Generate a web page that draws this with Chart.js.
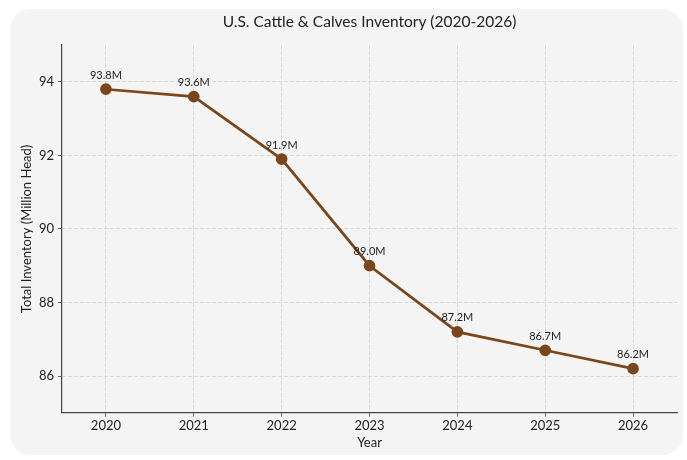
<!DOCTYPE html>
<html>
<head>
<meta charset="utf-8">
<script src="https://cdn.jsdelivr.net/npm/chart.js@4.4.1/dist/chart.umd.min.js"></script>
<style>
  html, body { margin: 0; padding: 0; background: #fff; }
  body { width: 687px; height: 460px; position: relative; overflow: hidden; }
  .card { position: absolute; left: 10px; top: 9px; width: 673px; height: 446px; background: #f4f4f4; border-radius: 20px; }
  .wrap { position: absolute; left: 0; top: 0; width: 687px; height: 460px; }
</style>
</head>
<body>
<div class="card"></div>
<div class="wrap"><canvas id="chart" width="687" height="460"></canvas></div>
<script>
// chart data
const years = ['2020', '2021', '2022', '2023', '2024', '2025', '2026']
const inventory = [93.8, 93.6, 91.9, 89.0, 87.2, 86.7, 86.2]
const yTicks = [86, 88, 90, 92, 94]

const fontFamily = "Lato, 'Noto Sans', sans-serif"
const lineColor = '#7b461b'

// writes "93.8M" style labels over each point
const pointLabels = {
    id: 'pointLabels',
    afterDatasetsDraw(chart) {
        const ctx = chart.ctx
        const meta = chart.getDatasetMeta(0)
        ctx.save()
        ctx.font = `11px ${fontFamily}`
        ctx.fillStyle = '#222'
        ctx.textAlign = 'center'
        ctx.textBaseline = 'middle'
        meta.data.forEach((pt, i) => {
            ctx.fillText(inventory[i].toFixed(1) + 'M', pt.x, pt.y - 14)
        })
        ctx.restore()
    }
}

const ctx = document.getElementById('chart')
new Chart(ctx, {
    type: 'line',
    data: {
        labels: years,
        datasets: [{
            label: 'Inventory',
            data: inventory,
            borderColor: lineColor,
            backgroundColor: lineColor,
            borderWidth: 2.7,
            pointRadius: 4.5,
            pointHoverRadius: 4.5,
            tension: 0
        }]
    },
    options: {
        responsive: false,
        animation: false,
        devicePixelRatio: 1,
        layout: { padding: { left: 0, right: 10, top: 0, bottom: 9 } },
        plugins: {
            legend: { display: false },
            tooltip: { enabled: false },
            title: {
                display: true,
                fullSize: false,
                text: 'U.S. Cattle & Calves Inventory (2020-2026)',
                color: '#222',
                font: { family: fontFamily, size: 15.5, weight: 'normal' },
                padding: { top: 12.5, bottom: 14 }
            }
        },
        scales: {
            x: {
                offset: true,
                grid: { color: '#cfcfcf', lineWidth: 0.8, tickColor: '#444', tickLength: 4, offset: false },
                border: { color: '#444', width: 1.2, dash: [4, 2] },
                ticks: { color: '#222', font: { family: fontFamily, size: 13 }, padding: 1, maxRotation: 0 },
                title: { display: true, text: 'Year', color: '#222', font: { family: fontFamily, size: 13 }, padding: { top: 1, bottom: 0 } }
            },
            y: {
                min: 85,
                max: 95,
                afterBuildTicks: scale => { scale.ticks = yTicks.map(v => ({ value: v })) },
                afterFit: scale => { scale.width = 62 },
                grid: { color: '#cfcfcf', lineWidth: 0.8, tickColor: '#444', tickLength: 4 },
                border: { color: '#444', width: 1.2, dash: [4, 2] },
                ticks: { color: '#222', font: { family: fontFamily, size: 13 }, padding: 4 },
                title: { display: true, text: 'Total Inventory (Million Head)', color: '#222', font: { family: fontFamily, size: 13 }, padding: { top: 19, bottom: 0 } }
            }
        }
    },
    plugins: [pointLabels]
})
</script>
</body>
</html>
